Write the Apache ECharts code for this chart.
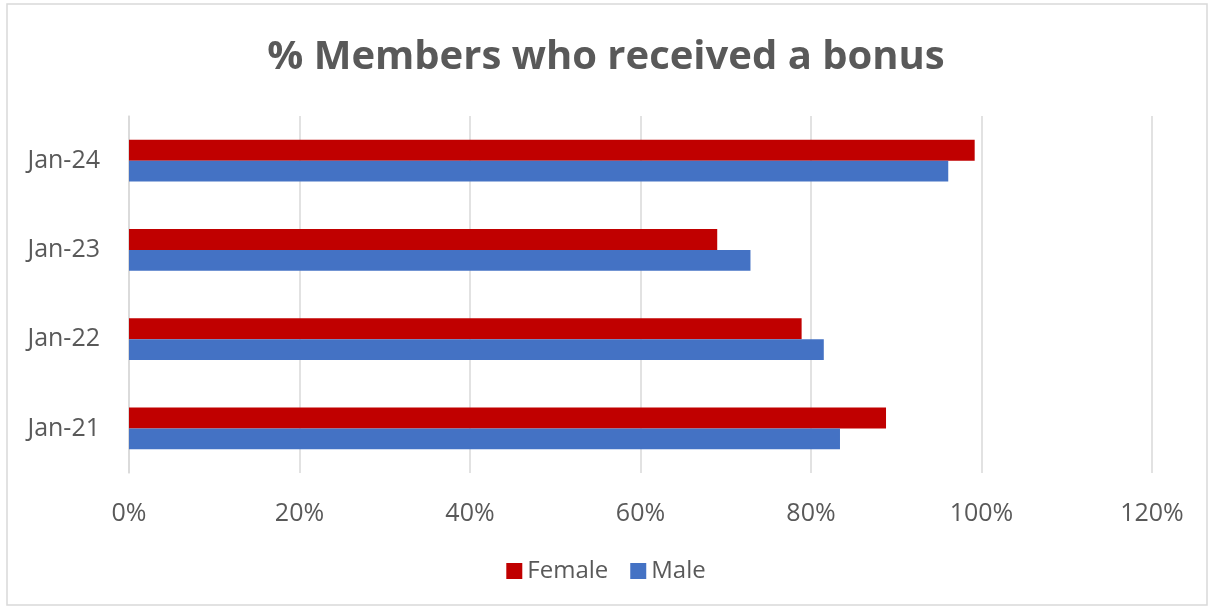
<!DOCTYPE html>
<html>
<head>
<meta charset="utf-8">
<script src="https://cdn.jsdelivr.net/npm/echarts@6/dist/echarts.min.js"></script>
<style>
html,body{margin:0;padding:0;background:#fff;}
#c{width:1212px;height:608px;}
</style>
</head>
<body>
<div id="c"></div>
<script>
const categories = ['Jan-21', 'Jan-22', 'Jan-23', 'Jan-24'];
const female = [0.888, 0.789, 0.690, 0.992];
const male = [0.834, 0.815, 0.729, 0.961];
const xTicks = [0, 0.2, 0.4, 0.6, 0.8, 1.0, 1.2];

const chart = echarts.init(document.getElementById('c'));
const font = 'Open Sans';
chart.setOption({
  animation: false,
  textStyle: {fontFamily: font},
  graphic: [{
    type: 'rect', shape: {x: 7, y: 4, width: 1200, height: 601},
    style: {fill: 'none', stroke: '#d9d9d9', lineWidth: 1.5}
  }],
  title: {
    text: '% Members who received a bonus',
    left: 'center', top: 33,
    textStyle: {fontFamily: font, fontSize: 40, fontWeight: 'bold', color: '#595959'}
  },
  legend: {
    data: ['Female', 'Male'],
    bottom: 20, left: 'center',
    icon: 'rect', itemWidth: 16, itemHeight: 16, itemGap: 22,
    textStyle: {fontFamily: font, fontSize: 24, color: '#595959'}
  },
  grid: {left: 129, right: 60, top: 116, bottom: 135, containLabel: false},
  xAxis: {
    type: 'value', min: 0, max: 1.2, interval: 0.2,
    axisLine: {show: false}, axisTick: {show: false},
    splitLine: {lineStyle: {color: '#d9d9d9', width: 1.5}},
    axisLabel: {
      margin: 28, fontSize: 25, color: '#595959', fontFamily: font,
      formatter: v => Math.round(v * 100) + '%'
    }
  },
  yAxis: {
    type: 'category', data: categories,
    axisLine: {lineStyle: {color: '#d9d9d9', width: 1.5}},
    axisTick: {length: 9, lineStyle: {color: '#d9d9d9', width: 1.5}},
    axisLabel: {margin: 29, fontSize: 25, color: '#595959', fontFamily: font}
  },
  series: [
    {name: 'Female', type: 'bar', data: female, itemStyle: {color: '#c00000'},
     barGap: '0%', barCategoryGap: '53%'},
    {name: 'Male', type: 'bar', data: male, itemStyle: {color: '#4472c4'},
     barGap: '0%', barCategoryGap: '53%'}
  ]
});
</script>
</body>
</html>
